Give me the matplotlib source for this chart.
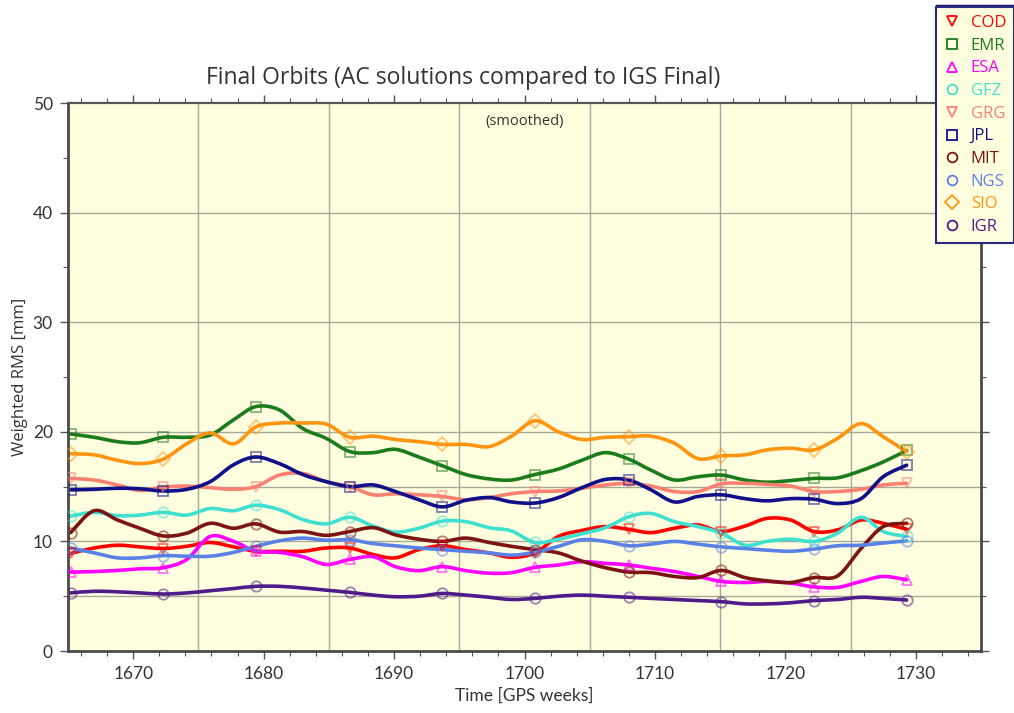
import numpy as np
import matplotlib
matplotlib.use("Agg")
import matplotlib.pyplot as plt
from matplotlib.path import Path
from matplotlib.patches import PathPatch
from matplotlib.lines import Line2D

# ---------------- data ----------------
weeks = [1665.2, 1667.0, 1668.8, 1670.5, 1672.3, 1674.1, 1675.9, 1677.7, 1679.4,
         1681.2, 1683.0, 1684.8, 1686.6, 1688.4, 1690.1, 1691.9, 1693.7, 1695.5,
         1697.3, 1699.0, 1700.8, 1702.6, 1704.4, 1706.2, 1708.0, 1709.7, 1711.5,
         1713.3, 1715.1, 1716.9, 1718.6, 1720.4, 1722.2, 1724.0, 1725.8, 1727.5,
         1729.3]

cod = [8.9, 9.4, 9.65, 9.5, 9.35, 9.55, 9.9, 9.5, 9.1, 9.1, 9.1, 9.4, 9.4, 8.8, 8.5,
       9.25, 9.6, 9.25, 8.95, 8.55, 8.95, 10.45, 11.0, 11.35, 11.1, 10.8, 11.2, 11.5,
       10.9, 11.4, 12.1, 11.95, 10.9, 11.05, 11.95, 11.65, 11.1]
emr = [19.8, 19.5, 19.1, 19.0, 19.5, 19.5, 19.7, 21.1, 22.3, 22.0, 20.3, 19.4, 18.2,
       18.1, 18.4, 17.7, 16.9, 16.1, 15.7, 15.6, 16.1, 16.6, 17.4, 18.1, 17.5, 16.5,
       15.6, 15.9, 16.05, 15.6, 15.4, 15.55, 15.75, 15.8, 16.45, 17.25, 18.3]
esa = [7.2, 7.25, 7.35, 7.5, 7.6, 8.35, 10.45, 10.0, 9.1, 9.0, 8.6, 7.9, 8.35, 8.6,
       7.7, 7.33, 7.7, 7.33, 7.1, 7.15, 7.63, 7.85, 8.15, 8.0, 7.85, 7.55, 7.25, 6.8,
       6.35, 6.25, 6.35, 6.2, 5.85, 5.8, 6.35, 6.8, 6.5]
gfz = [12.3, 12.65, 12.35, 12.4, 12.65, 12.4, 13.0, 12.8, 13.3, 12.9, 12.0, 11.6,
       12.2, 11.4, 10.85, 11.2, 11.85, 11.8, 11.25, 10.95, 9.9, 10.2, 10.7, 11.25,
       12.25, 12.55, 11.8, 11.35, 10.75, 9.65, 10.0, 10.2, 10.0, 10.75, 12.2, 10.9,
       10.45]
grg = [15.75, 15.6, 15.15, 14.65, 14.95, 15.05, 14.9, 14.75, 15.0, 16.05, 16.2,
       15.45, 15.0, 14.25, 14.35, 14.25, 14.1, 13.8, 14.0, 14.35, 14.55, 14.6, 14.85,
       15.15, 15.3, 15.05, 14.55, 14.55, 15.25, 15.3, 15.2, 15.05, 14.55, 14.55,
       14.75, 15.15, 15.3]
jpl = [14.7, 14.75, 14.85, 14.8, 14.6, 14.75, 15.45, 17.0, 17.7, 17.1, 16.1, 15.45,
       15.0, 15.15, 14.55, 13.8, 13.15, 13.75, 14.0, 13.6, 13.5, 14.0, 14.9, 15.65,
       15.6, 14.7, 13.6, 14.1, 14.25, 13.9, 13.7, 13.9, 13.85, 13.45, 13.9, 15.9,
       16.95]
mit = [10.8, 12.8, 11.95, 11.2, 10.5, 10.75, 11.65, 11.2, 11.6, 10.85, 10.9, 10.55,
       10.9, 11.25, 10.6, 10.2, 10.0, 10.3, 9.9, 9.55, 9.25, 8.95, 8.2, 7.6, 7.2,
       7.15, 6.8, 6.7, 7.35, 6.7, 6.4, 6.25, 6.7, 6.85, 9.35, 11.35, 11.65]
ngs = [9.4, 8.95, 8.5, 8.5, 8.7, 8.65, 8.65, 9.0, 9.55, 10.05, 10.3, 10.1, 10.15,
       9.8, 9.6, 9.4, 9.25, 9.1, 8.95, 8.75, 9.0, 9.55, 10.15, 10.0, 9.6, 9.75, 10.0,
       9.75, 9.5, 9.35, 9.2, 9.1, 9.3, 9.6, 9.65, 9.85, 10.05]
sio = [18.0, 17.9, 17.4, 17.1, 17.5, 18.9, 19.9, 18.9, 20.45, 20.8, 20.8, 20.7,
       19.5, 19.6, 19.3, 19.1, 18.85, 18.85, 18.65, 19.6, 21.0, 20.0, 19.3, 19.5,
       19.55, 19.6, 18.95, 17.55, 17.8, 17.9, 18.35, 18.5, 18.35, 19.4, 20.75, 19.55,
       18.2]
igr = [5.3, 5.45, 5.4, 5.3, 5.2, 5.3, 5.5, 5.7, 5.9, 5.9, 5.75, 5.55, 5.35, 5.1,
       4.95, 5.0, 5.25, 5.1, 4.9, 4.7, 4.8, 5.0, 5.1, 5.0, 4.9, 4.8, 4.7, 4.6, 4.5,
       4.3, 4.3, 4.4, 4.6, 4.7, 4.9, 4.8, 4.65]

names = ["COD", "EMR", "ESA", "GFZ", "GRG", "JPL", "MIT", "NGS", "SIO", "IGR"]
series = [cod, emr, esa, gfz, grg, jpl, mit, ngs, sio, igr]
colors = ["#ff0000", "#1c7c1c", "#ff00ff", "#40e0d0", "#fa8072", "#10108a",
          "#7d1414", "#5a82e6", "#ff9410", "#4f1a8a"]
markers = ["v", "s", "^", "o", "v", "s", "o", "o", "D", "o"]

x_major = [1670, 1680, 1690, 1700, 1710, 1720, 1730]
y_major = [0, 10, 20, 30, 40, 50]
v_grid = [1675, 1685, 1695, 1705, 1715, 1725]
h_grid = [5, 10, 15, 20, 30, 40]

# ---------------- figure ----------------
FW, FH = 1014, 713
fig = plt.figure(figsize=(FW / 100, FH / 100), dpi=100)
ax = fig.add_axes([68 / FW, 1 - 651 / FH, (981 - 68) / FW, (651 - 103) / FH])
ax.set_facecolor("#ffffe0")
ax.set_xlim(1665, 1735)
ax.set_ylim(0, 50)

for v in v_grid:
    ax.axvline(v, color="#a8a898", lw=1.0, zorder=0.5)
for h in h_grid:
    ax.axhline(h, color="#a8a898", lw=1.0, zorder=0.5)


def smooth_path(xs, ys):
    p = np.column_stack([xs, ys]).astype(float)
    n = len(p)
    verts = [p[0]]
    codes = [Path.MOVETO]
    for i in range(n - 1):
        p0 = p[i - 1] if i > 0 else p[i]
        p1 = p[i]
        p2 = p[i + 1]
        p3 = p[i + 2] if i + 2 < n else p[i + 1]
        c1 = p1 + (p2 - p0) / 6.0
        c2 = p2 - (p3 - p1) / 6.0
        verts += [c1, c2, p2]
        codes += [Path.CURVE4] * 3
    return Path(verts, codes)


for vals, col, mk in zip(series, colors, markers):
    patch = PathPatch(smooth_path(weeks, vals), fill=False, edgecolor=col,
                      lw=2.6, zorder=2, capstyle="round", joinstyle="round")
    ax.add_patch(patch)
    ax.plot(weeks[::4], vals[::4], ls="none", marker=mk, ms=7.5,
            mfc="none", mec=col, mew=1.3, alpha=0.55, zorder=3)

ax.set_xticks(x_major)
ax.set_xticks(np.arange(1666, 1735, 2), minor=True)
ax.set_yticks(y_major)
ax.set_yticks([5, 15, 25, 35, 45], minor=True)
ax.tick_params(which="both", direction="out", top=True, right=True,
               labeltop=False, labelright=False, color="#555555",
               labelcolor="#333333")
ax.tick_params(which="major", length=6, width=1.0, labelsize=12.5, pad=5)
ax.tick_params(which="minor", length=3.5, width=0.8)
for lab in ax.get_xticklabels() + ax.get_yticklabels():
    lab.set_family(["Lato", "DejaVu Sans"])

for s in ["left", "bottom", "right"]:
    ax.spines[s].set_color("#4a4a4a")
    ax.spines[s].set_linewidth(2.0)
ax.spines["top"].set_color("#555555")
ax.spines["top"].set_linewidth(1.6)

ax.set_xlabel("Time [GPS weeks]", fontsize=12.5, color="#333333",
              family=["Lato", "DejaVu Sans"], labelpad=4)
ax.set_ylabel("Weighted RMS [mm]", fontsize=12, color="#333333",
              family=["Open Sans", "DejaVu Sans"], labelpad=3)

fig.text(463.5 / FW, 1 - 78 / FH,
         "Final Orbits (AC solutions compared to IGS Final)",
         ha="center", va="center", fontsize=16.5, color="#333333",
         family=["Open Sans", "DejaVu Sans"])
ax.text(0.5, 0.967, "(smoothed)", transform=ax.transAxes, ha="center",
        va="center", fontsize=10.5, color="#333333",
        family=["Open Sans", "DejaVu Sans"])

handles = [Line2D([], [], ls="none", marker=mk, ms=7, mfc="none", mec=col,
                  mew=1.3) for col, mk in zip(colors, markers)]
leg = fig.legend(handles, names, loc="upper left",
                 bbox_to_anchor=(936 / FW, 1 - 7 / FH), frameon=True,
                 fancybox=False, facecolor="#ffffe0", edgecolor="#2a2a80",
                 framealpha=1.0, handlelength=1.0,
                 handletextpad=0.6, labelspacing=0.40, borderpad=0.48,
                 borderaxespad=0.0, prop={"family": ["Open Sans", "DejaVu Sans"],
                                          "size": 12})
leg.get_frame().set_linewidth(1.5)
for t, col in zip(leg.get_texts(), colors):
    t.set_color(col)
fig.add_artist(Line2D([938 / FW, 1.0], [1 - 7 / FH, 1 - 7 / FH],
                      transform=fig.transFigure, color="#1a1a6e", lw=3.2))

fig.savefig("out.png", dpi=100, facecolor="white")
